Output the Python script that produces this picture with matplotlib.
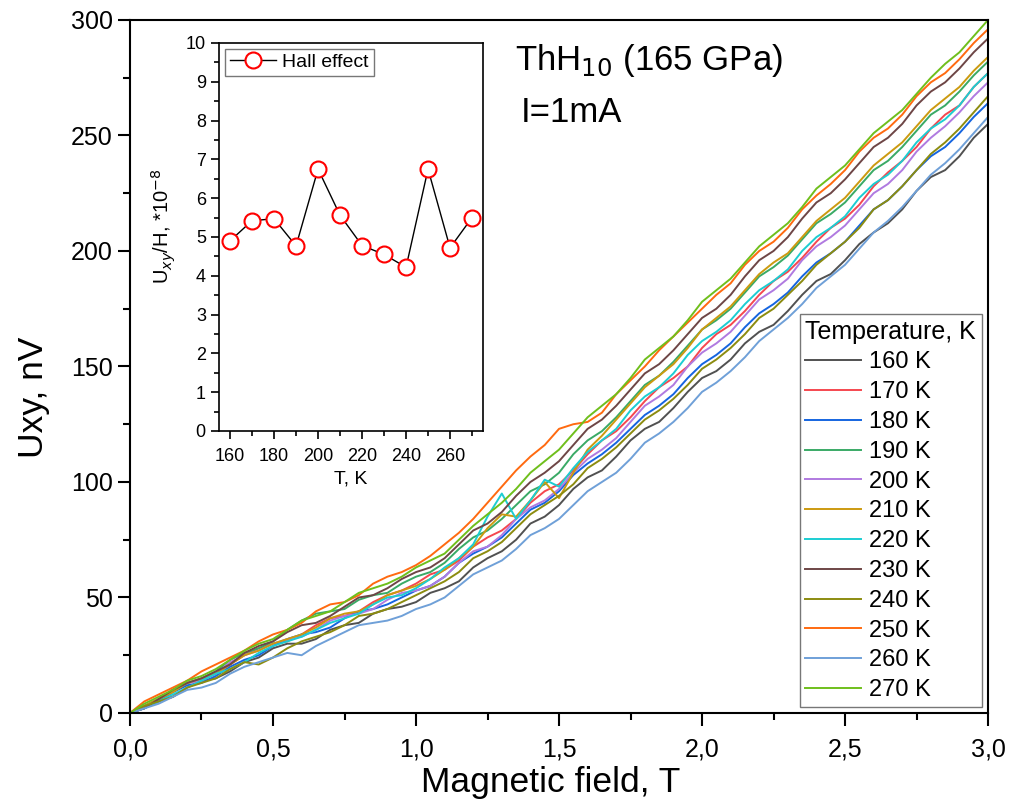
import numpy as np
import matplotlib
matplotlib.use('Agg')
import matplotlib.pyplot as plt
from matplotlib.ticker import MultipleLocator, FuncFormatter

plt.rcParams['font.family'] = ['Liberation Sans', 'DejaVu Sans']

# campo magnetico (T)
field = [0.0, 0.05, 0.1, 0.15, 0.2, 0.25, 0.3, 0.35, 0.4, 0.45,
         0.5, 0.55, 0.6, 0.65, 0.7, 0.75, 0.8, 0.85, 0.9, 0.95,
         1.0, 1.05, 1.1, 1.15, 1.2, 1.25, 1.3, 1.35, 1.4, 1.45,
         1.5, 1.55, 1.6, 1.65, 1.7, 1.75, 1.8, 1.85, 1.9, 1.95,
         2.0, 2.05, 2.1, 2.15, 2.2, 2.25, 2.3, 2.35, 2.4, 2.45,
         2.5, 2.55, 2.6, 2.65, 2.7, 2.75, 2.8, 2.85, 2.9, 2.95, 3.0]

# Uxy (nV) para cada temperatura
u160 = [0, 3, 5, 7, 11, 14, 15, 18, 22, 24, 28, 30, 30, 32, 36, 38, 39, 43, 45, 46,
        48, 52, 54, 57, 63, 67, 70, 75, 82, 85, 90, 97, 102, 105, 111, 118, 123, 126, 132, 139,
        145, 148, 153, 160, 165, 168, 174, 181, 187, 190, 196, 203, 208, 212, 218, 226, 232, 235, 241, 249, 255]
u170 = [0, 3, 6, 10, 13, 14, 17, 21, 25, 28, 30, 31, 34, 38, 41, 42, 44, 48, 51, 53,
        56, 60, 62, 66, 72, 76, 79, 84, 91, 96, 99, 105, 112, 118, 122, 128, 135, 141, 145, 150,
        158, 164, 168, 174, 181, 187, 191, 197, 204, 210, 214, 220, 228, 234, 239, 245, 253, 259, 263, 271, 277]
u180 = [0, 2, 5, 9, 12, 13, 16, 20, 23, 25, 29, 32, 34, 35, 37, 41, 44, 45, 47, 50,
        53, 55, 59, 65, 69, 72, 76, 82, 88, 91, 96, 103, 108, 112, 117, 123, 129, 133, 138, 145,
        151, 155, 160, 167, 173, 177, 182, 189, 195, 199, 204, 211, 218, 222, 228, 235, 241, 245, 251, 258, 264]
u190 = [0, 3, 6, 10, 13, 15, 18, 23, 26, 28, 31, 36, 40, 43, 44, 45, 49, 51, 52, 56,
        59, 61, 65, 71, 76, 79, 84, 90, 96, 99, 104, 112, 118, 122, 128, 135, 142, 146, 152, 159,
        166, 170, 175, 182, 189, 193, 198, 205, 212, 216, 221, 228, 235, 239, 245, 252, 259, 263, 269, 276, 282]
u200 = [0, 2, 6, 10, 13, 14, 17, 22, 25, 27, 30, 32, 33, 36, 40, 42, 43, 45, 49, 52,
        53, 55, 59, 65, 70, 72, 77, 84, 89, 92, 97, 104, 110, 114, 119, 126, 133, 137, 142, 150,
        156, 160, 165, 172, 179, 183, 188, 196, 202, 206, 211, 218, 225, 229, 235, 243, 249, 254, 260, 267, 273]
u210 = [0, 3, 6, 9, 13, 15, 17, 21, 25, 27, 30, 32, 34, 37, 41, 43, 44, 47, 51, 53,
        55, 58, 62, 67, 72, 80, 86, 85, 92, 100, 93, 104, 114, 120, 127, 134, 141, 146, 151, 158,
        166, 171, 176, 183, 190, 195, 199, 206, 213, 218, 223, 230, 237, 242, 247, 254, 261, 266, 271, 278, 284]
u220 = [0, 2, 5, 8, 11, 14, 17, 19, 22, 26, 29, 31, 33, 36, 39, 41, 43, 47, 50, 51,
        54, 58, 63, 67, 73, 85, 95, 84, 92, 101, 98, 106, 113, 118, 123, 131, 137, 141, 147, 155,
        161, 165, 170, 177, 183, 187, 192, 200, 206, 210, 215, 223, 229, 233, 239, 247, 253, 257, 263, 271, 277]
u230 = [0, 2, 6, 10, 13, 15, 18, 21, 26, 29, 31, 35, 38, 39, 42, 46, 50, 51, 54, 58,
        61, 63, 67, 73, 79, 82, 87, 94, 100, 104, 109, 116, 123, 127, 133, 140, 147, 151, 157, 164,
        171, 175, 181, 189, 196, 200, 206, 214, 221, 225, 231, 238, 245, 249, 255, 263, 269, 273, 279, 286, 292]
u240 = [0, 3, 5, 7, 11, 13, 15, 19, 22, 21, 24, 28, 31, 33, 35, 38, 42, 43, 45, 48,
        51, 54, 57, 61, 67, 70, 74, 80, 86, 90, 94, 99, 106, 110, 115, 121, 127, 131, 136, 142,
        149, 153, 158, 164, 171, 175, 181, 187, 194, 199, 204, 210, 218, 222, 228, 235, 242, 247, 253, 260, 267]
u250 = [0, 5, 8, 11, 14, 18, 21, 24, 27, 31, 34, 36, 39, 44, 47, 48, 51, 56, 59, 61,
        64, 68, 73, 78, 84, 91, 98, 105, 111, 116, 123, 125, 126, 130, 138, 144, 150, 157, 163, 169,
        175, 181, 186, 194, 200, 204, 210, 218, 224, 229, 235, 243, 249, 253, 259, 267, 273, 277, 283, 290, 296]
u260 = [0, 2, 4, 7, 10, 11, 13, 17, 20, 22, 24, 26, 25, 29, 32, 35, 38, 39, 40, 42,
        45, 47, 50, 55, 60, 63, 66, 71, 77, 80, 84, 90, 96, 100, 104, 110, 117, 121, 126, 132,
        139, 143, 148, 154, 161, 166, 171, 177, 184, 189, 194, 201, 208, 213, 219, 226, 233, 238, 244, 251, 258]
u270 = [0, 4, 7, 10, 14, 16, 19, 23, 27, 30, 32, 36, 40, 42, 44, 48, 52, 54, 56, 59,
        63, 66, 69, 75, 81, 86, 91, 97, 104, 109, 114, 121, 128, 133, 138, 145, 153, 158, 163, 170,
        178, 183, 188, 195, 202, 207, 212, 219, 227, 232, 237, 244, 251, 256, 261, 268, 275, 281, 286, 293, 300]

curvas = [u160, u170, u180, u190, u200, u210, u220, u230, u240, u250, u260, u270]
rotulos = ['160 K', '170 K', '180 K', '190 K', '200 K', '210 K',
           '220 K', '230 K', '240 K', '250 K', '260 K', '270 K']
cores = ['#515151', '#f5474f', '#1565e0', '#3aaa66', '#b07ae0', '#cc9a10',
         '#1ccdd2', '#6e4646', '#8c8c10', '#ff6a10', '#6fa0d8', '#6fbf1c']

# efeito Hall (inset)
temp = [160, 170, 180, 190, 200, 210, 220, 230, 240, 250, 260, 270]
hall = [4.9, 5.42, 5.47, 4.77, 6.75, 5.56, 4.78, 4.55, 4.22, 6.75, 4.72, 5.5]

virg = FuncFormatter(lambda v, p: ('%.1f' % v).replace('.', ','))

fig = plt.figure(figsize=(10.26, 8.05), dpi=100)
ax = fig.add_axes([0.1267, 0.1143, 0.8363, 0.8609])

for u, lab, c in zip(curvas, rotulos, cores):
    ax.plot(field, u, color=c, linewidth=1.4, label=lab)

ax.set_xlim(0, 3)
ax.set_ylim(0, 300)
ax.xaxis.set_major_locator(MultipleLocator(0.5))
ax.xaxis.set_minor_locator(MultipleLocator(0.25))
ax.yaxis.set_major_locator(MultipleLocator(50))
ax.yaxis.set_minor_locator(MultipleLocator(25))
ax.xaxis.set_major_formatter(virg)
ax.tick_params(which='both', direction='out', width=1.5, labelsize=18)
ax.tick_params(which='major', length=9)
ax.tick_params(which='minor', length=5)
ax.tick_params(axis='x', pad=9)
for s in ax.spines.values():
    s.set_linewidth(1.5)
ax.set_xlabel('Magnetic field, T', fontsize=25.5)
ax.xaxis.set_label_coords(0.49, -0.077)
ax.set_ylabel('Uxy, nV', fontsize=25.5)
ax.yaxis.set_label_coords(-0.093, 0.456)

ax.text(0.449, 0.942, 'ThH$_{10}$ (165 GPa)', transform=ax.transAxes, fontsize=25, va='center')
ax.text(0.455, 0.867, 'I=1mA', transform=ax.transAxes, fontsize=25, va='center')

leg = ax.legend(loc='lower right', title='Temperature, K', fontsize=17, title_fontsize=18,
                frameon=True, fancybox=False, edgecolor='#555555', handlelength=2.37,
                labelspacing=0.33, borderaxespad=0.25, handletextpad=0.3, borderpad=0.25,
                alignment='left')
leg.get_frame().set_linewidth(1.0)

# inset
ins = fig.add_axes([0.2135, 0.4646, 0.2573, 0.482])
ins.plot(temp, hall, color='black', linewidth=1.0, marker='o', markersize=11.5,
         markerfacecolor='white', markeredgecolor='red', markeredgewidth=1.5,
         label='Hall effect')
ins.set_xlim(155, 275)
ins.set_ylim(0, 10)
ins.xaxis.set_major_locator(MultipleLocator(20))
ins.xaxis.set_minor_locator(MultipleLocator(10))
ins.yaxis.set_major_locator(MultipleLocator(1))
ins.yaxis.set_minor_locator(MultipleLocator(0.5))
ins.tick_params(which='both', direction='out', width=1.2, labelsize=13)
ins.tick_params(which='major', length=6)
ins.tick_params(which='minor', length=3.5)
ins.tick_params(axis='x', pad=6)
for s in ins.spines.values():
    s.set_linewidth(1.2)
ins.set_xlabel('T, K', fontsize=14, labelpad=4)
ins.set_ylabel('U$_{xy}$/H, *10$^{-8}$', fontsize=14.5)
ins.yaxis.set_label_coords(-0.155, 0.528)
l2 = ins.legend(loc='upper left', fontsize=14, frameon=True, fancybox=False,
                edgecolor='#555555', handlelength=2.4, borderaxespad=0.3,
                handletextpad=0.3, borderpad=0.25)
l2.get_frame().set_linewidth(1.0)

fig.savefig('out.png', dpi=100)
